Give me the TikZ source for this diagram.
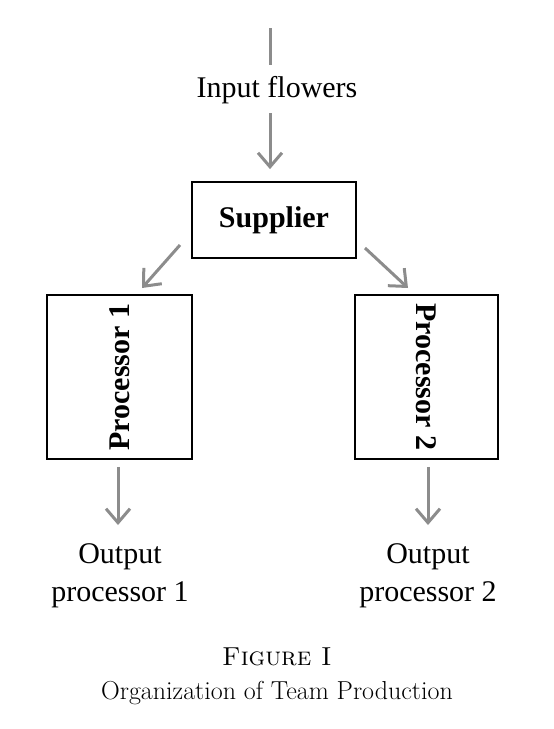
\documentclass[tikz,border=0pt]{standalone}
\usepackage{fontspec}
\newfontfamily\diagfont{Liberation Serif}
\usetikzlibrary{arrows.meta}
\begin{document}
\begin{tikzpicture}[x=1pt, y=-1pt,
                    box/.style={draw=black, line width=1.8pt, font=\diagfont\fontsize{30}{30}\selectfont\bfseries},
                    label/.style={font=\diagfont\fontsize{30}{38}\selectfont, align=center},
                    flow/.style={draw=gray!90, line width=3pt,
                                 -{Straight Barb[length=14pt, width=24pt, line width=3pt]}},
                    caption/.style={font=\fontsize{26}{30}\selectfont}]
    \useasboundingbox (0,0) rectangle (554,729);
    % input
    \coordinate (top) at (270,28);
    \node[label] (input) at (277,90) {Input flowers};
    \draw[draw=gray!90, line width=3pt] (top) -- ([yshift=8pt]input.north -| top);
    % supplier
    \node[box, minimum width=164pt, minimum height=76pt] (supplier) at (274,220) {Supplier};
    \draw[flow] ([yshift=-6pt]input.south -| top) -- ([yshift=12pt]supplier.north -| top);
    % processors
    \node[box, minimum width=145pt, minimum height=164pt] (proc1) at (119.5,377) {};
    \node[box, minimum width=143pt, minimum height=164pt] (proc2) at (426.5,377) {};
    \node[box, draw=none, rotate=90] (proc1text) at (proc1.center) {Processor 1};
    \node[box, draw=none, rotate=-90] (proc2text) at (proc2.center) {Processor 2};
    \coordinate (sl) at (180,245);
    \coordinate (sr) at (365,248);
    \draw[flow] (sl) -- (142,288);
    \draw[flow] (sr) -- (408,288);
    % outputs
    \node[label] (out1) at (120,576) {Output\\processor 1};
    \node[label] (out2) at (428,576) {Output\\processor 2};
    \draw[flow] ([yshift=-7pt]proc1.south -| 118,0) -- (118,525);
    \draw[flow] ([yshift=-7pt]proc2.south -| 428,0) -- (428,525);
    % caption
    \node[caption] (fig) at (277,657) {\textsc{Figure I}};
    \node[caption] (title) at (277,693) {Organization of Team Production};
\end{tikzpicture}
\end{document}
